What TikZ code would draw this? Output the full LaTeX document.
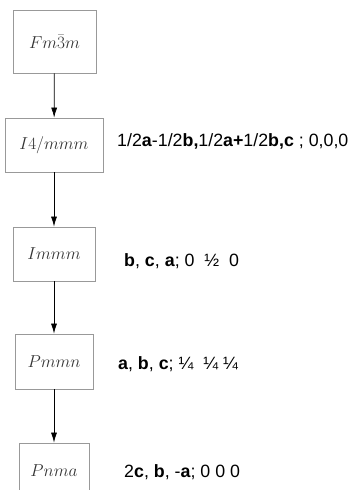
\documentclass[tikz,border=0pt]{standalone}
\usepackage{fontspec}
\newfontfamily\lab{Liberation Sans}
\usetikzlibrary{arrows.meta}
\begin{document}
\begin{tikzpicture}[x=1pt,y=-1pt,
  grp/.style={draw=black!40, line width=0.8pt, inner sep=0pt, text=black!80, font=\fontsize{18.5}{20}\selectfont},
  lbl/.style={anchor=west, inner sep=0pt, font=\lab\fontsize{17.8}{20}\selectfont},
  conn/.style={-{Latex[length=10pt,width=6pt]}, line width=0.7pt}]
\useasboundingbox (0,0) rectangle (361,490);
\clip (0,0) rectangle (361,490);
\node[grp, minimum width=83pt, minimum height=63pt] (g1) at (54.5,41.5) {$Fm\bar{3}m$};
\node[grp, minimum width=98pt, minimum height=54pt] (g2) at (54,145) {$I4/mmm$};
\node[grp, minimum width=82pt, minimum height=54pt] (g3) at (54,254) {$Immm$};
\node[grp, minimum width=78pt, minimum height=55pt] (g4) at (54,361.5) {$Pmmn$};
\node[grp, minimum width=70pt, minimum height=56pt] (g5) at (54,471) {$Pnma$};
\draw[conn] (g1) -- (g2);
\draw[conn] (g2) -- (g3);
\draw[conn] (g3) -- (g4);
\draw[conn] (g4) -- (g5);
\node[lbl] (l2) at (117,141) {1/2\textbf{a}-1/2\textbf{b,}1/2\textbf{a+}1/2\textbf{b,c} ; 0,0,0};
\node[lbl] (l3) at (124,261) {\textbf{b}, \textbf{c}, \textbf{a}; 0\ \ ½\ \ 0};
\node[lbl] (l4) at (118,364) {\textbf{a}, \textbf{b}, \textbf{c}; ¼\ \ ¼ ¼};
\node[lbl] (l5) at (124,472) {2\textbf{c}, \textbf{b}, -\textbf{a}; 0 0 0};
\end{tikzpicture}
\end{document}
